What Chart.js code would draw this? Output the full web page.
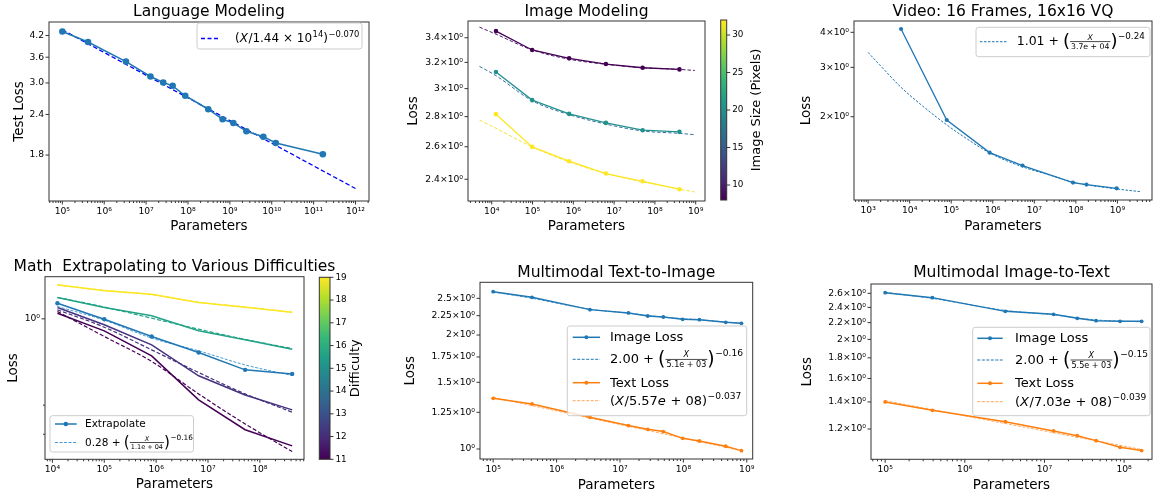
<!DOCTYPE html>
<html>
<head>
<meta charset="utf-8">
<script src="https://cdn.jsdelivr.net/npm/chart.js@4.4.1/dist/chart.umd.min.js"></script>
<style>
  body { margin: 0; background: #fff; }
  #page { position: relative; width: 1156px; height: 492px; overflow: hidden; background: #fff; }
  canvas { position: absolute; }
</style>
</head>
<body>
<div id="page"></div>
<script>
// ---------- values ----------
// Language modeling
const lmParams = [1e5, 4.1e5, 3.3e6, 1.27e7, 2.56e7, 4.3e7, 8.6e7, 3.05e8, 6.7e8, 1.21e9, 2.48e9, 6.3e9, 1.25e10, 1.66e11];
const lmLoss = [4.32, 4.01, 3.49, 3.14, 3.01, 2.94, 2.74, 2.49, 2.32, 2.26, 2.13, 2.05, 1.96, 1.81];
const lmFitParams = [1e5, 1e12];
const lmFitLoss = [4.37, 1.42];
const lmParamTicks = [1e5, 1e6, 1e7, 1e8, 1e9, 1e10, 1e11, 1e12];
const lmLossTicks = [1.8, 2.4, 3.0, 3.6, 4.2];

// Image modeling, one curve per image size
const imgParams = [1.27e4, 9.8e4, 7.9e5, 6.3e6, 5.0e7, 4.0e8];
const imgLoss8 = [3.456, 3.299, 3.232, 3.187, 3.158, 3.145];
const imgLoss16 = [3.125, 2.916, 2.819, 2.757, 2.708, 2.697];
const imgLoss32 = [2.817, 2.599, 2.509, 2.434, 2.388, 2.342];
const imgFitParams = [5e3, 1.27e4, 9.8e4, 7.9e5, 6.3e6, 5.0e7, 4.0e8, 9.5e8];
const imgFit8 = [3.49, 3.43, 3.30, 3.225, 3.185, 3.158, 3.145, 3.137];
const imgFit16 = [3.169, 3.097, 2.912, 2.814, 2.749, 2.703, 2.687, 2.678];
const imgFit32 = [2.776, 2.721, 2.599, 2.505, 2.434, 2.385, 2.342, 2.326];
const imgParamTicks = [1e4, 1e5, 1e6, 1e7, 1e8, 1e9];
const imgLossTicks = [2.4, 2.6, 2.8, 3.0, 3.2, 3.4];
const imgSizeTicks = [10, 15, 20, 25, 30];

// Video
const vidParams = [6.2e3, 7.8e4, 8.4e5, 5.2e6, 8.5e7, 1.8e8, 9.6e8];
const vidLoss = [4.11, 1.947, 1.489, 1.339, 1.164, 1.145, 1.111];
const vidFitParams = [1e3, 2.5e3, 6.2e3, 2e4, 7.8e4, 2.5e5, 8.4e5, 5.2e6, 2.5e7, 8.5e7, 9.6e8, 3.5e9];
const vidFitLoss = [3.39, 2.93, 2.546, 2.19, 1.87, 1.66, 1.485, 1.325, 1.235, 1.168, 1.105, 1.081];
const vidParamTicks = [1e3, 1e4, 1e5, 1e6, 1e7, 1e8, 1e9];
const vidLossTicks = [2, 3, 4];

// Math, one curve per difficulty
const mathParams = [1.25e4, 1.0e5, 8.2e5, 6.6e6, 5.2e7, 4.2e8];
const mathLoss19 = [1.607, 1.478, 1.411, 1.256, 1.177, 1.097];
const mathFit19 = [1.60, 1.49, 1.40, 1.262, 1.18, 1.095];
const mathLoss16 = [1.347, 1.171, 1.043, 0.846, 0.746, 0.655];
const mathFit16 = [1.347, 1.18, 1.009, 0.866, 0.75, 0.66];
const mathLoss12 = [1.171, 0.920, 0.696, 0.452, 0.346, 0.281];
const mathFit12 = [1.134, 0.890, 0.649, 0.473, 0.351, 0.272];
const mathLoss11 = [1.082, 0.846, 0.597, 0.323, 0.213, 0.170];
const mathFit11 = [1.108, 0.782, 0.552, 0.351, 0.231, 0.157];
const mathExtrap = [1.244, 0.995, 0.782, 0.625, 0.491, 0.464];
const mathExtrapFit = [1.188, 0.982, 0.764, 0.640, 0.526, 0.454];
const mathParamTicks = [1e4, 1e5, 1e6, 1e7, 1e8];
const mathLossTicks = [1];
const mathLossMinor = [0.2, 0.3];
const difficultyTicks = [11, 12, 13, 14, 15, 16, 17, 18, 19];

// Multimodal text-to-image
const t2iParams = [1e5, 4.1e5, 3.36e6, 1.36e7, 2.74e7, 4.83e7, 9.75e7, 1.79e8, 4.66e8, 8.24e8];
const t2iImageLoss = [2.603, 2.515, 2.334, 2.287, 2.245, 2.232, 2.200, 2.196, 2.161, 2.148];
const t2iTextLoss = [1.361, 1.315, 1.213, 1.153, 1.127, 1.112, 1.067, 1.050, 1.017, 0.990];
const t2iImageFitParams = [1e5, 4.1e5, 3.36e6, 1.36e7, 4.83e7, 1.79e8, 8.24e8];
const t2iImageFit = [2.60, 2.50, 2.34, 2.285, 2.23, 2.195, 2.145];
const t2iTextFitParams = [1e5, 8.24e8];
const t2iTextFit = [1.37, 0.99];
const t2iParamTicks = [1e5, 1e6, 1e7, 1e8, 1e9];
const t2iLossTicks = [1, 1.25, 1.5, 1.75, 2, 2.25, 2.5];

// Multimodal image-to-text
const i2tParams = [1e5, 3.92e5, 3.22e6, 1.30e7, 2.58e7, 4.45e7, 8.9e7, 1.66e8];
const i2tImageLoss = [2.610, 2.537, 2.346, 2.307, 2.255, 2.225, 2.217, 2.217];
const i2tTextLoss = [1.400, 1.335, 1.251, 1.187, 1.155, 1.123, 1.081, 1.061];
const i2tImageFitParams = [1e5, 3.92e5, 3.22e6, 1.30e7, 4.45e7, 1.66e8];
const i2tImageFit = [2.615, 2.525, 2.36, 2.30, 2.235, 2.21];
const i2tTextFitParams = [1e5, 1.66e8];
const i2tTextFit = [1.41, 1.068];
const i2tParamTicks = [1e5, 1e6, 1e7, 1e8];
const i2tLossTicks = [1.2, 1.4, 1.6, 1.8, 2, 2.2, 2.4, 2.6];

// ---------- helpers ----------
const FONT = '"DejaVu Sans", sans-serif';
Chart.defaults.font.family = FONT;
Chart.defaults.color = '#000';

const SUP = '⁰¹²³⁴⁵⁶⁷⁸⁹';
const pow10 = v => '10' + String(Math.round(Math.log10(v))).split('').map(d => SUP[+d]).join('');
const sciLabel = v => v === 1 ? '10⁰' : v + '×10⁰';
const viridis = ['#440154', '#482878', '#3e4989', '#31688e', '#26828e', '#1f9e89', '#35b779', '#6ece58', '#b5de2b', '#fde725'];

function minors(min, max) {
  const out = [];
  for (let e = Math.floor(Math.log10(min)); e <= Math.ceil(Math.log10(max)); e++)
    for (let k = 2; k <= 9; k++) { const v = k * Math.pow(10, e); if (v > min && v < max) out.push(v); }
  return out;
}

function addCanvas(b) {
  const c = document.createElement('canvas');
  c.width = b.w; c.height = b.h;
  c.style.left = b.x + 'px'; c.style.top = b.y + 'px';
  c.style.width = b.w + 'px'; c.style.height = b.h + 'px';
  document.getElementById('page').appendChild(c);
  return c;
}

function series(xs, ys, color, st) {
  return Object.assign({
    data: xs.map((x, i) => ({x, y: ys[i]})),
    borderColor: color, backgroundColor: color, pointBackgroundColor: color,
    borderWidth: 1.5, pointRadius: 0, pointBorderWidth: 0, fill: false
  }, st || {});
}
const dot = r => ({pointRadius: r});
const dash = (d, w) => ({borderDash: d, borderWidth: w, cubicInterpolationMode: 'monotone'});

// small math-text writer for the legends: strings, {it}, {sup}, {big}, {frac}
function mathLine(ctx, toks, x, y, size) {
  const base = y + size * 0.3;
  const font = (s, it) => (it ? 'italic ' : '') + s + 'px ' + FONT;
  const put = (s, f, px, py) => { ctx.font = f; ctx.fillText(s, px, py); return ctx.measureText(s).width; };
  let cx = x, lastBig = false;
  ctx.textAlign = 'left'; ctx.textBaseline = 'alphabetic';
  toks.forEach(k => {
    if (typeof k === 'string') { cx += put(k, font(size), cx, base); lastBig = false; }
    else if (k.it) { cx += put(k.it, font(size, true), cx, base) + size * 0.04; lastBig = false; }
    else if (k.sup) { cx += put(k.sup, font(size * 0.7), cx + 0.5, base - size * (lastBig ? 0.55 : 0.45)) + 0.5; }
    else if (k.big) { const s = size * 1.45; cx += put(k.big, font(s), cx, y + s * 0.3); lastBig = true; }
    else if (k.frac) {
      const s = size * 0.62;
      ctx.font = font(s, true); const wn = ctx.measureText(k.frac[0]).width;
      ctx.font = font(s); const wd = ctx.measureText(k.frac[1]).width;
      const w = Math.max(wn, wd) + 2;
      put(k.frac[0], font(s, true), cx + (w - wn) / 2, y - size * 0.14);
      put(k.frac[1], font(s), cx + (w - wd) / 2, y + size * 0.14 + s * 0.73);
      ctx.fillRect(cx, y - 0.35, w, 0.7);
      cx += w; lastBig = false;
    }
  });
}

function drawLegend(ctx, L, ox, oy) {
  const [x0, y0, x1, y1] = [L.box[0] - ox, L.box[1] - oy, L.box[2] - ox, L.box[3] - oy];
  const r = 2.5;
  ctx.beginPath();
  ctx.moveTo(x0 + r, y0); ctx.arcTo(x1, y0, x1, y1, r); ctx.arcTo(x1, y1, x0, y1, r);
  ctx.arcTo(x0, y1, x0, y0, r); ctx.arcTo(x0, y0, x1, y0, r); ctx.closePath();
  ctx.fillStyle = 'rgba(255,255,255,0.8)'; ctx.fill();
  ctx.strokeStyle = '#cccccc'; ctx.lineWidth = 1; ctx.stroke();
  L.items.forEach(it => {
    const y = it.y - oy;
    ctx.strokeStyle = it.color; ctx.lineWidth = it.width || 1.5;
    ctx.setLineDash(it.dash || []);
    ctx.beginPath(); ctx.moveTo(L.sx[0] - ox, y); ctx.lineTo(L.sx[1] - ox, y); ctx.stroke();
    ctx.setLineDash([]);
    if (it.marker) {
      ctx.fillStyle = it.color;
      ctx.beginPath(); ctx.arc((L.sx[0] + L.sx[1]) / 2 - ox, y, it.marker, 0, Math.PI * 2); ctx.fill();
    }
    ctx.fillStyle = '#000';
    mathLine(ctx, it.text, L.tx - ox, y, L.size);
  });
}

// frame, tick marks, titles, legend
function decor(d) {
  return {
    id: 'decor',
    afterDraw(chart) {
      const {ctx, chartArea: a, scales} = chart;
      const ox = d.box.x, oy = d.box.y;
      ctx.save();
      ctx.strokeStyle = '#000'; ctx.lineWidth = 0.8;
      const seg = (x1, y1, x2, y2) => { ctx.beginPath(); ctx.moveTo(x1, y1); ctx.lineTo(x2, y2); ctx.stroke(); };
      const xs = scales.x;
      if (xs.options.display !== false) {
        xs.ticks.forEach(t => { const p = xs.getPixelForValue(t.value); seg(p, a.bottom, p, a.bottom + 3.5); });
        (d.xMinor || []).forEach(v => { const p = xs.getPixelForValue(v); seg(p, a.bottom, p, a.bottom + 2); });
      }
      const ys = scales.y, right = ys.options.position === 'right';
      const yTick = (v, len) => {
        const p = ys.getPixelForValue(v);
        right ? seg(a.right, p, a.right + len, p) : seg(a.left - len, p, a.left, p);
      };
      ys.ticks.forEach(t => yTick(t.value, 3.5));
      (d.yMinor || []).forEach(v => yTick(v, 2));
      ctx.strokeStyle = '#333'; ctx.lineWidth = 1;
      ctx.strokeRect(a.left, a.top, a.right - a.left, a.bottom - a.top);

      ctx.fillStyle = '#000'; ctx.textAlign = 'center'; ctx.textBaseline = 'middle';
      const cx = (a.left + a.right) / 2, cy = (a.top + a.bottom) / 2;
      if (d.title) { ctx.font = '15.5px ' + FONT; ctx.fillText(d.title, cx, d.titleY - oy); }
      if (d.xTitle) { ctx.font = '13.5px ' + FONT; ctx.fillText(d.xTitle, cx, d.xTitleY - oy); }
      const rot = (text, x, size) => {
        ctx.save(); ctx.font = size + 'px ' + FONT;
        ctx.translate(x - ox, cy); ctx.rotate(-Math.PI / 2); ctx.fillText(text, 0, 0);
        ctx.restore();
      };
      if (d.yTitle) rot(d.yTitle, d.yTitleX, 13.5);
      if (d.cbLabel) rot(d.cbLabel, d.cbLabelX, 13);
      if (d.legend) drawLegend(ctx, d.legend, ox, oy);
      ctx.restore();
    }
  };
}

function axis(a, size, horizontal) {
  return {
    type: 'logarithmic', min: a.min, max: a.max,
    afterFit: s => { if (horizontal) s.height = size; else s.width = size; },
    afterBuildTicks: s => { s.ticks = a.ticks.map(v => ({value: v})); },
    grid: {display: false, drawTicks: false}, border: {display: false},
    ticks: {autoSkip: false, maxRotation: 0, padding: horizontal ? 5 : 5, font: {size: 9.2}, color: '#000', callback: a.label}
  };
}

function panel(box, plot, x, y, datasets, d) {
  return new Chart(addCanvas(box), {
    type: 'line',
    data: {datasets},
    options: {
      responsive: false, animation: false, events: [],
      layout: {padding: {left: 0, top: plot.t - box.y, right: box.x + box.w - plot.r, bottom: 0}},
      plugins: {legend: {display: false}, tooltip: {enabled: false}},
      scales: {
        x: axis(x, box.y + box.h - plot.b, true),
        y: axis(y, plot.l - box.x, false)
      }
    },
    plugins: [decor(Object.assign({box, xMinor: minors(x.min, x.max)}, d))]
  });
}

function colorbar(box, bar, min, max, ticks, d) {
  return new Chart(addCanvas(box), {
    type: 'bar',
    data: {labels: [''], datasets: [{
      data: [[min, max]], borderWidth: 0, barPercentage: 1, categoryPercentage: 1,
      backgroundColor: c => {
        const a = c.chart.chartArea;
        if (!a) return viridis[0];
        const g = c.chart.ctx.createLinearGradient(0, a.bottom, 0, a.top);
        viridis.forEach((col, i) => g.addColorStop(i / (viridis.length - 1), col));
        return g;
      }
    }]},
    options: {
      responsive: false, animation: false, events: [],
      layout: {padding: {left: bar.l - box.x, top: bar.t - box.y, right: 0, bottom: box.y + box.h - bar.b}},
      plugins: {legend: {display: false}, tooltip: {enabled: false}},
      scales: {
        x: {display: false},
        y: {
          position: 'right', min, max,
          afterFit: s => { s.width = box.x + box.w - bar.r; },
          afterBuildTicks: s => { s.ticks = ticks.map(v => ({value: v})); },
          grid: {display: false, drawTicks: false}, border: {display: false},
          ticks: {padding: 5.5, font: {size: 8.8}, color: '#000'}
        }
      }
    },
    plugins: [decor(Object.assign({box}, d))]
  });
}

const BLUE = '#1f77b4', ORANGE = '#ff7f0e';

// ---------- Language Modeling ----------
panel({x: 0, y: 0, w: 380, h: 246}, {l: 49, t: 22, r: 369, b: 201},
  {min: 4.8e4, max: 2.1e12, ticks: lmParamTicks, label: pow10},
  {min: 1.343, max: 4.62, ticks: lmLossTicks, label: v => v.toFixed(1)},
  [
    series(lmParams, lmLoss, BLUE, dot(3.3)),
    series(lmFitParams, lmFitLoss, '#0000ff', dash([4.5, 2.5], 1.3))
  ],
  {title: 'Language Modeling', titleY: 12, xTitle: 'Parameters', xTitleY: 226, yTitle: 'Test Loss', yTitleX: 19,
   legend: {box: [197, 23, 362, 49], sx: [201, 220], tx: 235, size: 12, items: [
     {y: 38.5, color: '#0000ff', dash: [4, 2.5], width: 1.3,
      text: ['(', {it: 'X'}, '/1.44 × 10', {sup: '14'}, ')', {sup: '−0.070'}]}
   ]}});

// ---------- Image Modeling ----------
panel({x: 380, y: 0, w: 335, h: 246}, {l: 468, t: 21, r: 705, b: 201},
  {min: 2.62e3, max: 1.69e9, ticks: imgParamTicks, label: pow10},
  {min: 2.275, max: 3.543, ticks: imgLossTicks, label: sciLabel},
  [
    series(imgParams, imgLoss8, '#440154', Object.assign(dot(2.3), {borderWidth: 1.3})),
    series(imgParams, imgLoss16, '#21918c', Object.assign(dot(2.3), {borderWidth: 1.3})),
    series(imgParams, imgLoss32, '#fde725', Object.assign(dot(2.3), {borderWidth: 1.3})),
    series(imgFitParams, imgFit8, '#4b1d6e', dash([3.5, 2], 1)),
    series(imgFitParams, imgFit16, '#3b6f9e', dash([3.5, 2], 1)),
    series(imgFitParams, imgFit32, '#f5e23a', dash([3.5, 2], 1))
  ],
  {title: 'Image Modeling', titleY: 12, xTitle: 'Parameters', xTitleY: 226, yTitle: 'Loss', yTitleX: 413.3});

colorbar({x: 705, y: 0, w: 75, h: 246}, {l: 720.7, t: 20, r: 726.7, b: 200}, 8, 32, imgSizeTicks,
  {cbLabel: 'Image Size (Pixels)', cbLabelX: 756.7});

// ---------- Video ----------
panel({x: 780, y: 0, w: 376, h: 246}, {l: 854, t: 21, r: 1155, b: 200},
  {min: 457, max: 6.8e9, ticks: vidParamTicks, label: pow10},
  {min: 1.009, max: 4.39, ticks: vidLossTicks, label: sciLabel},
  [
    series(vidParams, vidLoss, BLUE, Object.assign(dot(2.1), {borderWidth: 1.3})),
    series(vidFitParams, vidFitLoss, BLUE, dash([2.5, 1.5], 1))
  ],
  {title: 'Video: 16 Frames, 16x16 VQ', titleY: 12, xTitle: 'Parameters', xTitleY: 226, yTitle: 'Loss', yTitleX: 806,
   legend: {box: [976, 27.3, 1150, 56.7], sx: [980, 1006.7], tx: 1016.7, size: 12.5, items: [
     {y: 41.7, color: BLUE, dash: [2.5, 1.5], width: 1,
      text: ['1.01 + ', {big: '('}, {frac: ['X', '3.7e + 04']}, {big: ')'}, {sup: '−0.24'}]}
   ]}});

// ---------- Math ----------
panel({x: 0, y: 250, w: 360, h: 242}, {l: 45, t: 276.7, r: 304, b: 459.3},
  {min: 7.2e3, max: 7.1e8, ticks: mathParamTicks, label: pow10},
  {min: 0.141, max: 1.80, ticks: mathLossTicks, label: sciLabel},
  [
    series(mathParams, mathExtrap, BLUE, dot(2.2)),
    series(mathParams, mathLoss19, '#fde725'),
    series(mathParams, mathFit19, '#f4e03a', dash([4, 2], 1.2)),
    series(mathParams, mathLoss16, '#20a386'),
    series(mathParams, mathFit16, '#20a386', dash([4, 2], 1.2)),
    series(mathParams, mathExtrapFit, '#4a9ad4', dash([3, 1.5], 1)),
    series(mathParams, mathLoss12, '#46327e'),
    series(mathParams, mathFit12, '#46327e', dash([4, 2], 1.2)),
    series(mathParams, mathLoss11, '#440154'),
    series(mathParams, mathFit11, '#440154', dash([4, 2], 1.2))
  ],
  {title: 'Math  Extrapolating to Various Difficulties', titleY: 266.5, xTitle: 'Parameters', xTitleY: 484,
   yTitle: 'Loss', yTitleX: 13, yMinor: mathLossMinor,
   legend: {box: [50, 415.7, 193.5, 452], sx: [55, 76.7], tx: 85, size: 10.5, items: [
     {y: 424, color: BLUE, width: 1.5, marker: 2.3, text: ['Extrapolate']},
     {y: 442.5, color: '#4a9ad4', dash: [3, 1.5], width: 1,
      text: ['0.28 + ', {big: '('}, {frac: ['X', '1.1e + 04']}, {big: ')'}, {sup: '−0.16'}]}
   ]}});

colorbar({x: 310, y: 250, w: 70, h: 242}, {l: 319.3, t: 277.3, r: 330, b: 459.3}, 11, 19, difficultyTicks,
  {cbLabel: 'Difficulty', cbLabelX: 356});

// ---------- Multimodal Text-to-Image ----------
panel({x: 390, y: 250, w: 380, h: 242}, {l: 480, t: 282.3, r: 752.7, b: 459},
  {min: 6.2e4, max: 1.24e9, ticks: t2iParamTicks, label: pow10},
  {min: 0.941, max: 2.756, ticks: t2iLossTicks, label: sciLabel},
  [
    series(t2iParams, t2iImageLoss, BLUE, dot(1.9)),
    series(t2iParams, t2iTextLoss, ORANGE, dot(1.9)),
    series(t2iImageFitParams, t2iImageFit, '#5b9bd0', dash([3, 1.5], 1)),
    series(t2iTextFitParams, t2iTextFit, '#ffae6b', dash([3, 1.5], 1))
  ],
  {title: 'Multimodal Text-to-Image', titleY: 272.7, xTitle: 'Parameters', xTitleY: 485, yTitle: 'Loss', yTitleX: 410,
   legend: {box: [567.3, 326, 746.7, 415.7], sx: [572.7, 600], tx: 610, size: 13, items: [
     {y: 337.3, color: BLUE, width: 1.5, marker: 2, text: ['Image Loss']},
     {y: 359.3, color: BLUE, dash: [3, 1.5], width: 1,
      text: ['2.00 + ', {big: '('}, {frac: ['X', '5.1e + 03']}, {big: ')'}, {sup: '−0.16'}]},
     {y: 382.7, color: ORANGE, width: 1.5, marker: 2, text: ['Text Loss']},
     {y: 400.7, color: '#ffa75e', dash: [3, 1.5], width: 1,
      text: ['(', {it: 'X'}, '/5.57', {it: 'e'}, ' + 08)', {sup: '−0.037'}]}
   ]}});

// ---------- Multimodal Image-to-Text ----------
panel({x: 790, y: 250, w: 366, h: 242}, {l: 871, t: 284, r: 1155, b: 459.3},
  {min: 6.64e4, max: 2.24e8, ticks: i2tParamTicks, label: pow10},
  {min: 1.0097, max: 2.742, ticks: i2tLossTicks, label: sciLabel},
  [
    series(i2tParams, i2tImageLoss, BLUE, dot(1.9)),
    series(i2tParams, i2tTextLoss, ORANGE, dot(1.9)),
    series(i2tImageFitParams, i2tImageFit, '#5b9bd0', dash([3, 1.5], 1)),
    series(i2tTextFitParams, i2tTextFit, '#ffae6b', dash([3, 1.5], 1))
  ],
  {title: 'Multimodal Image-to-Text', titleY: 273.3, xTitle: 'Parameters', xTitleY: 485, yTitle: 'Loss', yTitleX: 807.5,
   legend: {box: [972.7, 327.3, 1150, 415.7], sx: [977.3, 1002.7], tx: 1015, size: 13, items: [
     {y: 338.3, color: BLUE, width: 1.5, marker: 2, text: ['Image Loss']},
     {y: 360, color: BLUE, dash: [3, 1.5], width: 1,
      text: ['2.00 + ', {big: '('}, {frac: ['X', '5.5e + 03']}, {big: ')'}, {sup: '−0.15'}]},
     {y: 383.3, color: ORANGE, width: 1.5, marker: 2, text: ['Text Loss']},
     {y: 401.7, color: '#ffa75e', dash: [3, 1.5], width: 1,
      text: ['(', {it: 'X'}, '/7.03', {it: 'e'}, ' + 08)', {sup: '−0.039'}]}
   ]}});
</script>
</body>
</html>
